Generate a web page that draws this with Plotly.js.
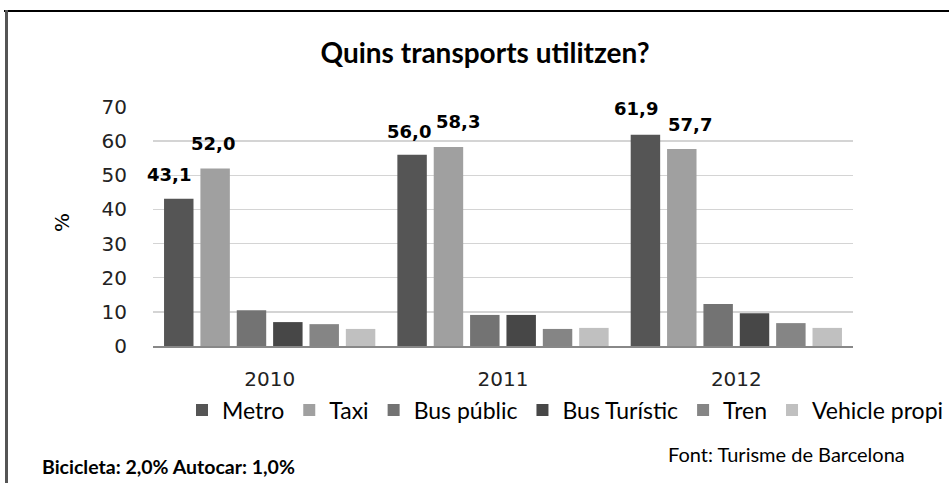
<!DOCTYPE html>
<html>
<head>
<meta charset="utf-8">
<script src="https://cdn.plot.ly/plotly-3.0.1.min.js"></script>
<style>
  html, body { margin:0; padding:0; background:#fff; }
  #wrap { position:relative; width:949px; height:483px; overflow:hidden; }
  #chart { position:absolute; left:0; top:0; width:949px; height:483px; }
  #frameTop { position:absolute; left:4px; top:10px; width:945px; height:2px; background:#000; }
  #frameLeft { position:absolute; left:5px; top:10px; width:3px; height:473px; background:#555; }
</style>
</head>
<body>
<div id="wrap">
  <div id="chart"></div>
  <div id="frameTop"></div>
  <div id="frameLeft"></div>
</div>
<script>
// ---- data ----
const years = ["2010", "2011", "2012"];
const seriesNames = ["Metro", "Taxi", "Bus públic", "Bus Turístic", "Tren", "Vehicle propi"];
const metro = [43.1, 56.0, 61.9];
const taxi = [52.0, 58.3, 57.7];
const busPublic = [10.5, 9.1, 12.3];
const busTuristic = [7.0, 9.1, 9.6];
const tren = [6.4, 5.0, 6.7];
const vehiclePropi = [5.0, 5.3, 5.3];
const yTicks = [0, 10, 20, 30, 40, 50, 60, 70];
const chartTitle = "Quins transports utilitzen?";
const yTitle = "%";
const noteLeft = "Bicicleta: 2,0% Autocar: 1,0%";
const noteRight = "Font: Turisme de Barcelona";

// ---- styles ----
const colors = ["#555555", "#a0a0a0", "#737373", "#474747", "#858585", "#c0c0c0"];
const allValues = [metro, taxi, busPublic, busTuristic, tren, vehiclePropi];
const labelledSeries = [0, 1]; // Metro and Taxi carry value labels
const labelNudgeX = [[-10, -3, -9], [-2, 10, 8]]; // px, label placement style
const labelNudgeY = [[24, 23, 26], [25, 25, 25]];
const fmt = v => v.toFixed(1).replace(".", ",");

const BARGAP = 0.065;
const nSeries = seriesNames.length;
const slot = (1 - BARGAP) / nSeries;

const traces = seriesNames.map((name, i) => ({
  type: "bar",
  name: name,
  x: years,
  y: allValues[i],
  marker: { color: colors[i], line: { width: 0 } },
  hoverinfo: "none"
}));

const annotations = [];
labelledSeries.forEach((si, k) => {
  const off = (si - (nSeries - 1) / 2) * slot;
  allValues[si].forEach((v, ci) => {
    annotations.push({
      xref: "x", yref: "y",
      x: ci + off, y: v,
      text: "<b>" + fmt(v) + "</b>",
      showarrow: false,
      yanchor: "middle",
      xshift: labelNudgeX[k][ci],
      yshift: labelNudgeY[k][ci],
      font: { family: "DejaVu Sans", size: 18, color: "#000" }
    });
  });
});

// y-axis title
annotations.push({
  xref: "paper", yref: "paper",
  x: -0.13, y: 0.515, xanchor: "center", yanchor: "middle",
  text: yTitle, textangle: -90, showarrow: false,
  font: { family: "DejaVu Sans", size: 20, color: "#000" }
});

annotations.push({
  xref: "paper", yref: "paper",
  x: -0.162, y: -0.506, xanchor: "left", yanchor: "middle",
  text: "<b>" + noteLeft + "</b>", showarrow: false,
  font: { family: "Lato", size: 19.5, color: "#000" }
});
annotations.push({
  xref: "paper", yref: "paper",
  x: 0.733, y: -0.452, xanchor: "left", yanchor: "middle",
  text: noteRight, showarrow: false,
  font: { family: "Lato", size: 20, color: "#000" }
});

const layout = {
  width: 949, height: 483,
  margin: { l: 153, r: 96, t: 107, b: 137, pad: 0, autoexpand: false },
  paper_bgcolor: "#fff", plot_bgcolor: "#fff",
  barmode: "group",
  bargap: BARGAP,
  bargroupgap: 0.19,
  showlegend: true,
  title: {
    text: "<b>" + chartTitle + "</b>",
    x: 485 / 949, xref: "container", xanchor: "center",
    y: 1 - 53 / 483, yref: "container", yanchor: "middle",
    font: { family: "Lato", size: 28, color: "#000" }
  },
  xaxis: {
    type: "category",
    range: [-0.5, years.length - 0.5],
    automargin: false,
    showgrid: false,
    showline: true, linecolor: "#888", linewidth: 1.5,
    ticks: "", ticklabelstandoff: 14,
    tickfont: { family: "DejaVu Sans", size: 20, color: "#222" }
  },
  yaxis: {
    range: [0, 70],
    automargin: false,
    tickvals: yTicks,
    ticktext: yTicks.map(String),
    showgrid: true, gridcolor: "#d4d4d4", gridwidth: 1.5,
    zeroline: false, showline: false,
    ticks: "", ticklabelstandoff: 25,
    tickfont: { family: "DejaVu Sans", size: 20, color: "#222" }
  },
  legend: {
    orientation: "h",
    x: (949 - 153) / 700, xanchor: "right",
    y: -0.268, yanchor: "middle",
    font: { family: "Lato", size: 23, color: "#000" },
    itemwidth: 30,
    traceorder: "normal",
    bgcolor: "rgba(0,0,0,0)"
  },
  annotations: annotations
};

Plotly.newPlot("chart", traces, layout, { displayModeBar: false, staticPlot: true });
</script>
</body>
</html>
